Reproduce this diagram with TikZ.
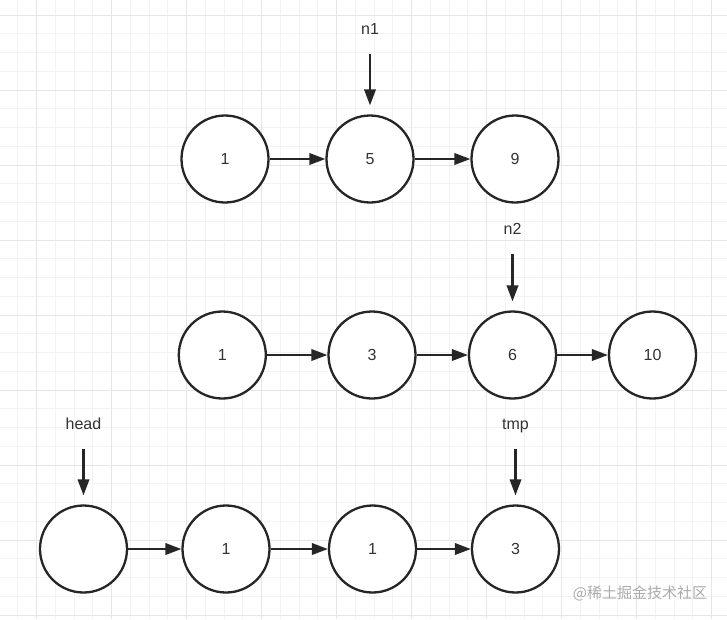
\documentclass[tikz,border=0pt]{standalone}
\usepackage{fontspec}
\setmainfont{Liberation Sans}
\newfontfamily\cjkfont{Noto Sans CJK SC}
\usetikzlibrary{positioning,arrows.meta}
\definecolor{inkc}{HTML}{262626}
\definecolor{txtc}{HTML}{333333}
\definecolor{gridminor}{HTML}{F3F3F3}
\definecolor{gridmajor}{HTML}{E6E6E6}
\definecolor{markc}{HTML}{ABABAB}
\tikzstyle{lnode}=[circle, draw=inkc, fill=white, line width=2.3pt, minimum size=87pt,
                   inner sep=0pt, text=txtc, font=\fontsize{16}{19}\selectfont]
\tikzstyle{plabel}=[rectangle, inner sep=0pt, text height=11pt, text depth=0pt,
                    text=txtc, font=\fontsize{16}{19}\selectfont]
\tikzstyle{larrow}=[-{Triangle[length=16pt,width=11.5pt]}, line width=2.1pt, draw=inkc]
\tikzstyle{parrow}=[larrow, shorten <=20pt, shorten >=9pt]
\tikzstyle{gminor}=[draw=gridminor, line width=1pt]
\tikzstyle{gmajor}=[draw=gridmajor, line width=1pt]

\begin{document}
\begin{tikzpicture}[x=1pt, y=-1pt]
\useasboundingbox (0,0) rectangle (727,619);
\fill[white] (0,0) rectangle (727,619);

\foreach \i in {0,...,38} \draw[gminor] (17.95+\i*18.75,0) -- ++(0,619);
\foreach \j in {0,...,32} \draw[gminor] (0,15+\j*18.75) -- ++(727,0);
\foreach \i in {0,...,9} \draw[gmajor] (36.7+\i*75,0) -- ++(0,619);
\foreach \j in {0,...,8} \draw[gmajor] (0,15+\j*75) -- ++(727,0);

\node (LA1) [lnode] at (225,159) {1};
\node (LA5) [lnode, right=55.7pt of LA1] {5};
\node (LA9) [lnode, right=55.7pt of LA5] {9};
 \draw[larrow] (LA1) -- (LA5);
 \draw[larrow] (LA5) -- (LA9);

\node (LB1) [lnode] at (222.3,355) {1};
\node (LB3) [lnode, right=60.4pt of LB1] {3};
\node (LB6) [lnode, right=51.2pt of LB3] {6};
\node (LB10) [lnode, right=50.7pt of LB6] {10};
 \draw[larrow] (LB1) -- (LB3);
 \draw[larrow] (LB3) -- (LB6);
 \draw[larrow] (LB6) -- (LB10);

\node (HEAD) [lnode] at (83.5,549) {};
\node (RES1) [lnode, right=53.2pt of HEAD] {1};
\node (RES2) [lnode, right=57.2pt of RES1] {1};
\node (RES3) [lnode, right=53.7pt of RES2] {3};
 \draw[larrow] (HEAD) -- (RES1);
 \draw[larrow] (RES1) -- (RES2);
 \draw[larrow] (RES2) -- (RES3);

\node (PN1) [plabel, above=80pt of LA5] {n1};
\node (PN2) [plabel, above=76pt of LB6] {n2};
\node (PHEAD) [plabel, above=75pt of HEAD] {head};
\node (PTMP) [plabel, above=75pt of RES3] {tmp};
 \draw[parrow] (PN1) -- (LA5);
 \draw[parrow] (PN2) -- (LB6);
 \draw[parrow] (PHEAD) -- (HEAD);
 \draw[parrow] (PTMP) -- (RES3);

\node (WMARK) [text=markc, font=\cjkfont\fontsize{15}{18}\selectfont] at (640,593) {@稀土掘金技术社区};

\end{tikzpicture}
\end{document}
